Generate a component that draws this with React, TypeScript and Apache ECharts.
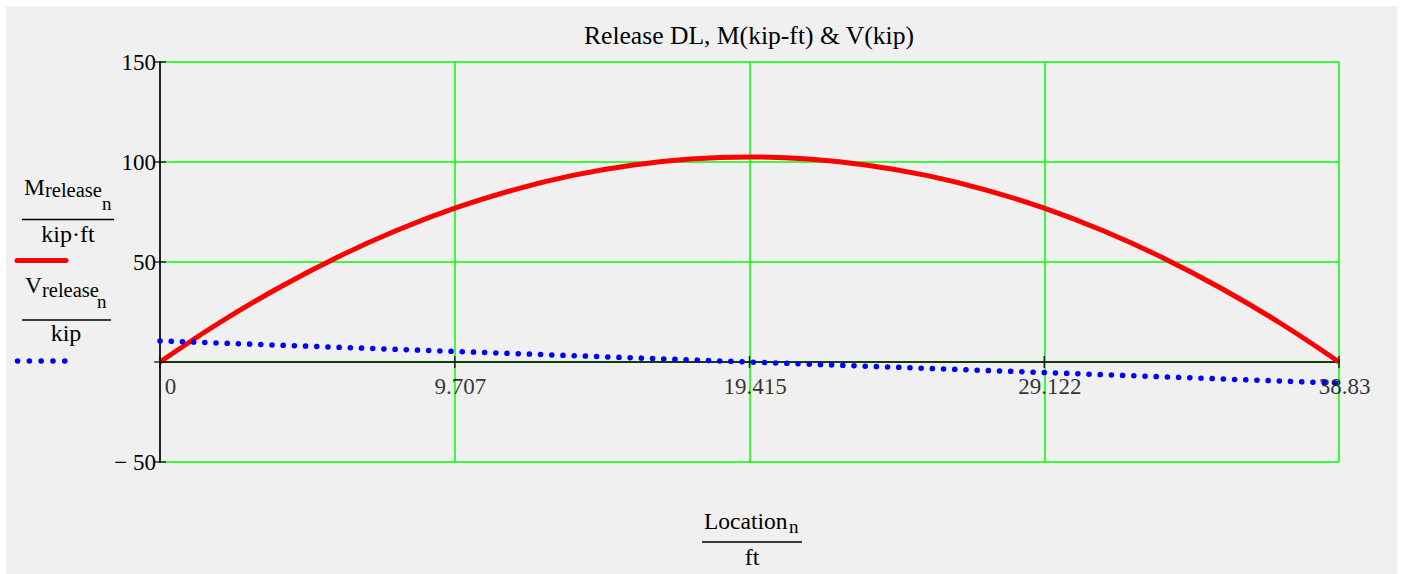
import React, { useEffect, useRef } from "react";
import * as echarts from "echarts";

const location = [0, 1.9415, 3.883, 5.8245, 7.766, 9.7075, 11.649, 13.5905, 15.532, 17.4735, 19.415, 21.3565, 23.298, 25.2395, 27.181, 29.1225, 31.064, 33.0055, 34.947, 36.8885, 38.83];
const mRelease = [0, 19.5, 36.9, 52.3, 65.6, 76.9, 86.1, 93.3, 98.4, 101.5, 102.5, 101.5, 98.4, 93.3, 86.1, 76.9, 65.6, 52.3, 36.9, 19.5, 0];
const vRelease = [10.56, 9.5, 8.45, 7.39, 6.34, 5.28, 4.22, 3.17, 2.11, 1.06, 0, -1.06, -2.11, -3.17, -4.22, -5.28, -6.34, -7.39, -8.45, -9.5, -10.56];

const xTicks = [0, 9.7075, 19.415, 29.1225, 38.83];
const xTickLabels = ["0", "9.707", "19.415", "29.122", "38.83"];
const yTicks = [-50, 0, 50, 100, 150];
const yTickLabels = ["\u2212 50", "", "50", "100", "150"];

const FONT = "Liberation Serif";

export default function App() {
  const ref = useRef<HTMLDivElement>(null);
  useEffect(() => {
    if (!ref.current) return;
    const chart = echarts.init(ref.current, undefined, { renderer: "svg" });
    const txt = (text: string, x: number, y: number, size: number, align = "left") => ({
      type: "text",
      silent: true,
      style: { text, x, y, fontSize: size, fontFamily: FONT, fill: "#000", align, verticalAlign: "middle" },
    });
    const hline = (x1: number, x2: number, y: number, stroke = "#000", lineWidth = 1.5, extra: any = {}) => ({
      type: "line",
      silent: true,
      shape: { x1, y1: y, x2, y2: y },
      style: { stroke, lineWidth, ...extra },
    });
    chart.setOption({
      animation: false,
      backgroundColor: "transparent",
      textStyle: { fontFamily: FONT },
      grid: { left: 160, right: 63, top: 62, height: 400, containLabel: false },
      xAxis: {
        type: "value",
        min: 0,
        max: 38.83,
        interval: 9.7075,
        axisLine: { show: true, onZero: true, lineStyle: { color: "#000", width: 1.5 } },
        axisTick: { show: false },
        splitLine: { show: true, lineStyle: { color: "#00ff00", width: 1.5 } },
        axisLabel: { show: false },
      },
      yAxis: {
        type: "value",
        min: -50,
        max: 150,
        interval: 50,
        axisLine: { show: true, onZero: false, lineStyle: { color: "#222", width: 2 } },
        axisTick: { show: false },
        splitLine: { show: true, lineStyle: { color: "#00ff00", width: 1.5 } },
        axisLabel: {
          show: true,
          margin: 4,
          fontSize: 23,
          fontFamily: FONT,
          color: "#000",
          padding: [5, 0, 0, 0],
          formatter: (v: number) => {
            const idx = yTicks.findIndex((t) => Math.abs(t - v) < 1e-6);
            return idx >= 0 ? yTickLabels[idx] : "";
          },
        },
      },
      series: [
        {
          type: "line",
          name: "M",
          data: location.map((x, i) => [x, mRelease[i]]),
          showSymbol: false,
          smooth: 0.4,
          lineStyle: { color: "#ff0000", width: 5 },
          z: 3,
        },
        {
          type: "line",
          name: "V",
          data: location.map((x, i) => [x, vRelease[i]]),
          showSymbol: false,
          lineStyle: { color: "#0000ff", width: 5.5, type: [0.1, 11.1], cap: "round" },
          z: 4,
        },
        {
          type: "scatter",
          silent: true,
          symbol: "rect",
          symbolSize: [1.5, 12],
          itemStyle: { color: "#000" },
          data: xTicks.map((x, i) => ({
            value: [x, 0],
            label: { offset: [i === 0 ? 10.5 : 5.5, 0] },
          })),
          label: {
            show: true,
            position: "bottom",
            distance: 7,
            fontSize: 23,
            fontFamily: FONT,
            color: "#000",
            formatter: (p: any) => xTickLabels[p.dataIndex],
          },
          z: 5,
        },
        {
          type: "scatter",
          silent: true,
          symbol: "rect",
          symbolSize: [12, 1.5],
          itemStyle: { color: "#000" },
          data: yTicks.map((y) => [0, y]),
          z: 5,
        },
      ],
      graphic: [
        txt("Release DL, M(kip-ft) & V(kip)", 749, 35, 25.6, "center"),
        // M label
        txt("M", 24, 187, 23.5),
        txt("release", 45, 190, 20.5),
        txt("n", 102, 203, 19),
        hline(22, 114, 219.5),
        txt("kip\u00b7ft", 68, 234, 24, "center"),
        hline(17, 66, 260.5, "#ff0000", 5, { lineCap: "round" }),
        // V label
        txt("V", 25, 285, 23.5),
        txt("release", 42, 289.5, 20.5),
        txt("n", 97, 301, 19),
        hline(22, 111, 320),
        txt("kip", 66, 333, 24, "center"),
        hline(17.5, 65, 361, "#0000ff", 5.5, { lineCap: "round", lineDash: [0.1, 11.7] }),
        // x label
        txt("Location", 704, 520.5, 23.5),
        txt("n", 789, 526.5, 19),
        hline(702, 802, 542),
        txt("ft", 752, 557, 24, "center"),
      ],
    });
    return () => chart.dispose();
  }, []);
  return (
    <div style={{ position: "fixed", left: 0, top: 0, width: 1402, height: 574, background: "#ffffff" }}>
      <div style={{ position: "absolute", left: 6, top: 6, width: 1391, height: 568, background: "#f0f0f0" }} />
      <div ref={ref} style={{ position: "absolute", left: 0, top: 0, width: 1402, height: 574 }} />
    </div>
  );
}
